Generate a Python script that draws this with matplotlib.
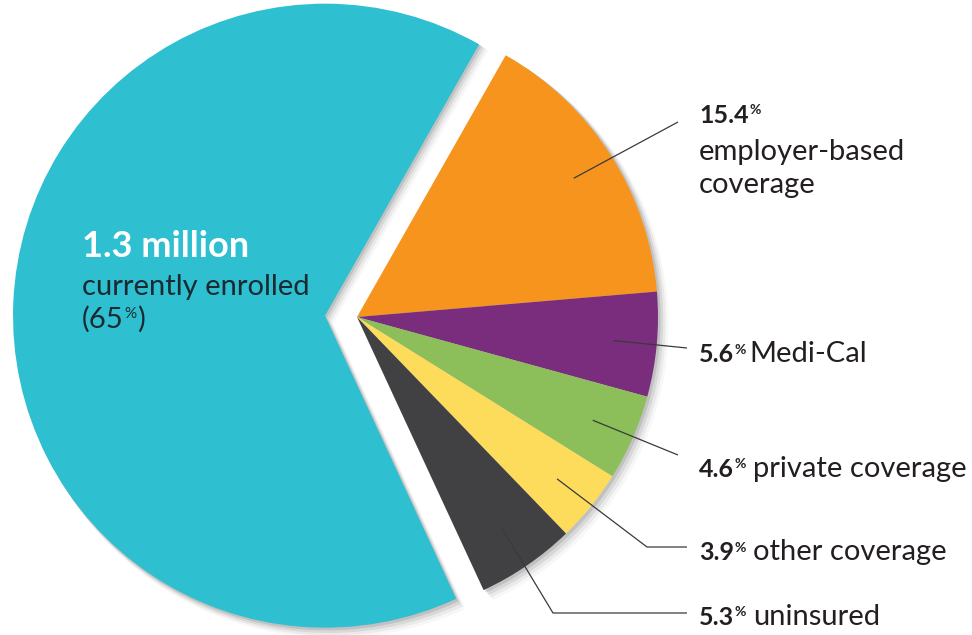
"""Coverage breakdown pie with an exploded enrolled slice and leader labels."""

import matplotlib
matplotlib.use("Agg")
import matplotlib.pyplot as plt
import numpy as np
from matplotlib.patches import Wedge

# Slices in drawing order (clockwise from the top of the small group)
names = ["employer-based coverage", "Medi-Cal", "private coverage",
         "other coverage", "uninsured", "currently enrolled"]
shares = [15.4, 5.6, 4.6, 3.9, 5.3, 65.0]
colors = ["#F7941D", "#7A2D7D", "#8CBE5A", "#FDDC5C", "#414143", "#2EBFD1"]
explode = [0, 0, 0, 0, 0, 32]   # pie offsets in data units (pixels here)

INK = "#231F20"
FONT = "Lato"

fig = plt.figure(figsize=(9.72, 6.35), dpi=100)
ax = fig.add_axes([0, 0, 1, 1])

wedges, _ = ax.pie(shares, colors=colors, explode=explode, startangle=60.4,
                   counterclock=False, center=(357, 318), radius=301,
                   wedgeprops=dict(linewidth=0, zorder=2))
wedges[-1].set_radius(312)

ax.set_xlim(0, 972)
ax.set_ylim(0, 635)
ax.set_aspect("equal")
ax.axis("off")

# soft drop shadow, drawn under every slice
for w in wedges:
    cx, cy = w.center
    for d, a in [(2, 0.10), (4, 0.08), (6, 0.05), (8, 0.03)]:
        ax.add_patch(Wedge((cx + d, cy - d), w.r + d * 0.3, w.theta1, w.theta2,
                           facecolor="black", alpha=a, linewidth=0, zorder=1))

renderer = fig.canvas.get_renderer()


def anchor(w, frac=0.855):
    cx, cy = w.center
    mid = np.deg2rad((w.theta1 + w.theta2) / 2)
    return cx + frac * w.r * np.cos(mid), cy + frac * w.r * np.sin(mid)


def pct_label(x, y, value, rest=None, gap=7):
    t = ax.text(x, y, f"{value}", fontsize=18, fontweight="bold", color=INK,
                family=FONT, va="baseline", ha="left")
    bb = t.get_window_extent(renderer)
    p = ax.text(bb.x1 + 0.5, y + 8.5, "%", fontsize=10, fontweight="bold",
                color=INK, family=FONT, va="baseline", ha="left")
    pb = p.get_window_extent(renderer)
    if rest:
        ax.text(pb.x1 + gap, y, rest, fontsize=21, color=INK, family=FONT,
                va="baseline", ha="left")


# leader lines: anchor inside slice, then bend points toward the label
bends = [
    [(678, 513)],
    [(687, 287)],
    [(678, 180)],
    [(647, 88), (687, 88)],
    [(553, 22), (687, 22)],
]
for w, pts in zip(wedges[:5], bends):
    ax0, ay0 = anchor(w)
    xs = [ax0] + [p[0] for p in pts]
    ys = [ay0] + [p[1] for p in pts]
    ax.plot(xs, ys, color="#3a3a3a", linewidth=0.9, zorder=3,
            solid_capstyle="butt")

LX = 699
pct_label(LX, 635 - 123, shares[0])
ax.text(LX, 635 - 160, "employer-based", fontsize=21, color=INK, family=FONT,
        va="baseline")
ax.text(LX, 635 - 193, "coverage", fontsize=21, color=INK, family=FONT,
        va="baseline")
pct_label(LX, 635 - 362, shares[1], names[1], gap=3)
pct_label(LX, 635 - 477, shares[2], names[2])
pct_label(LX, 635 - 560, shares[3], names[3])
pct_label(LX, 635 - 625, shares[4], names[4])

# big slice label
ax.text(82, 635 - 257, "1.3 million", fontsize=26, fontweight="bold",
        color="white", family=FONT, va="baseline", zorder=4)
ax.text(82, 635 - 295, names[5], fontsize=21, color="#1B2A30", family=FONT,
        va="baseline", zorder=4)
t = ax.text(82, 635 - 328, f"({shares[5]:.0f}", fontsize=21, color="#1B2A30",
            family=FONT, va="baseline", zorder=4)
bb = t.get_window_extent(renderer)
p = ax.text(bb.x1 + 0.5, 635 - 328 + 10, "%", fontsize=11, color="#1B2A30",
            family=FONT, va="baseline", zorder=4)
pb = p.get_window_extent(renderer)
ax.text(pb.x1 + 0.5, 635 - 328, ")", fontsize=21, color="#1B2A30",
        family=FONT, va="baseline", zorder=4)

fig.savefig("out.png", dpi=100)
